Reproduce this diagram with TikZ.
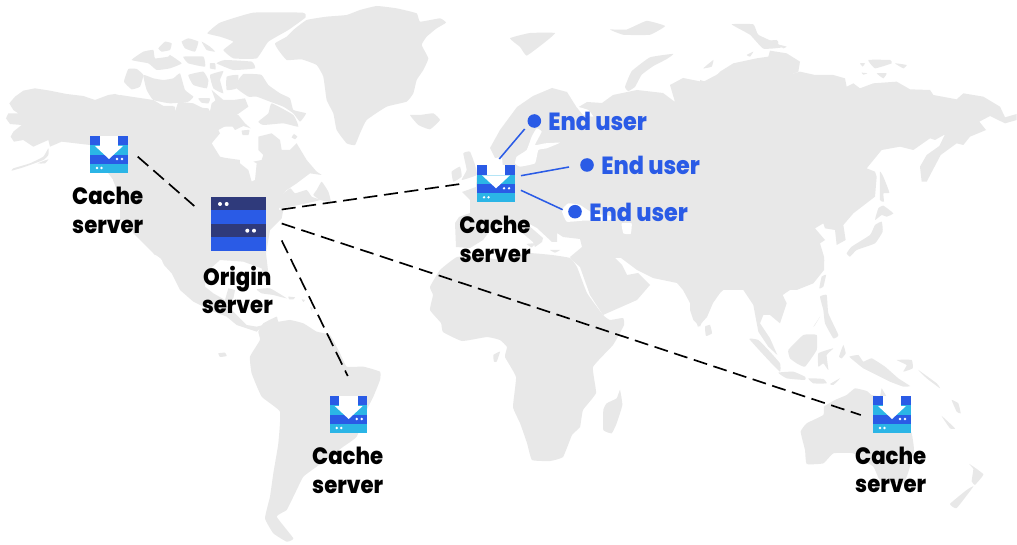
\documentclass[tikz,border=0pt]{standalone}
\usepackage{fontspec}
\setmainfont{Poppins}[BoldFont={Poppins ExtraBold},BoldFeatures={FakeStretch=.9}]
\usetikzlibrary{calc}
\definecolor{mapgray}{HTML}{E8E8E8}
\definecolor{cdnblue}{HTML}{2A5BE6}
\definecolor{cdncyan}{HTML}{2BB5E6}
\definecolor{cdnnavy}{HTML}{2F3A7B}
\newcommand\lnd[1]{\fill[mapgray] plot[smooth cycle,tension=.22] coordinates {#1};}
\newcommand\sea[1]{\fill[white] plot[smooth cycle,tension=.22] coordinates {#1};}
\tikzset{
  dashline/.style={draw=black,line width=1.25pt,dash pattern=on 10.5pt off 5pt},
  userline/.style={draw=cdnblue,line width=1.15pt},
  iconbox/.style={inner sep=0pt,minimum width=37.5*.75pt,minimum height=37.2*.75pt,draw=none},
  originbox/.style={inner sep=0pt,minimum width=54.6*.75pt,minimum height=54*.75pt,draw=none},
  userdot/.style={circle,fill=cdnblue,inner sep=0pt,minimum size=10.2pt,draw=none},
  srvlabel/.style={font=\fontsize{17.7}{21.5}\selectfont\bfseries,align=center,text=black,inner sep=0pt},
  userlabel/.style={font=\fontsize{18.6}{21}\selectfont\bfseries,text=cdnblue,inner sep=0pt,anchor=west},
  pics/cacheicon/.style={code={
    \fill[cdnblue] (0,0) rectangle (9.5,9.3);
    \fill[cdnblue] (28,0) rectangle (37.5,9.3);
    \fill[cdncyan] (0,9.3) rectangle (37.5,18.6);
    \fill[cdnblue] (0,18.6) rectangle (37.5,27.8);
    \fill[cdncyan] (0,27.8) rectangle (37.5,37.2);
    \fill[white] (9.5,0) rectangle (28,10);
    \fill[white] (5,10) -- (33,10) -- (19,23) -- cycle;
    \foreach \p in {(27,23),(32,23),(7,32),(11.5,32)} \fill[white] \p circle (1.3);
  }},
}
\begin{document}
\begin{tikzpicture}[x=.75pt,y=-.75pt]
\useasboundingbox (0,0) rectangle (1017,545);
\fill[white] (0,0) rectangle (1017,545);

% ---- North America
\begin{scope}[scale=.33333]
\fill[mapgray] (28,310) -- (45,290) -- (70,272) -- (105,265) -- (150,272) -- (200,282) -- (250,288) -- (285,300) -- (325,285) -- (345,282) -- (375,290) -- (420,298) -- (465,318) -- (520,318) -- (525,335) -- (535,305) -- (580,310) -- (630,335) -- (640,312) -- (700,340) -- (700,365) -- (655,390) -- (635,430) -- (650,470) -- (720,480) -- (720,560) -- (340,540) -- (310,500) -- (270,435) -- (185,425) -- (150,440) -- (145,420) -- (100,440) -- (70,420) -- (42,425) -- (32,410) -- (40,395) -- (65,375) -- (30,372) -- (18,355) -- (25,340) -- (55,340) -- (40,330) -- cycle;
\lnd{(145,445) (130,470) (90,490) (40,505) (35,512) (70,502) (130,480) (145,465)}
\lnd{(113,490) (145,478) (135,490)}
\end{scope}
\fill[mapgray] (113,180) -- (130,223) -- (215,230) -- (210,150) -- (113,150) -- cycle;

\begin{scope}[shift={(120,0)},scale=.33333]
\lnd{(560,60) (620,50) (680,45) (720,30) (770,18) (830,25) (890,40) (900,65) (960,55) (978,68) (950,85) (920,110) (905,135) (925,175) (910,210) (890,240) (880,280) (860,305) (800,320) (740,360) (720,400) (705,435) (680,430) (650,390) (640,340) (620,300) (610,230) (590,195) (545,178) (500,180) (475,150) (465,130) (500,110) (520,90)}
\lnd{(870,345) (900,345) (940,340) (960,360) (930,388) (895,375)}
\lnd{(262,100) (300,68) (400,38) (548,38) (557,52) (505,90) (445,125) (410,175) (340,175) (310,150) (340,125) (300,110)}
\lnd{(70,225) (100,235) (130,240) (160,235) (180,220) (195,270) (220,290) (205,305) (150,310) (100,300) (80,270)}
\lnd{(12,245) (25,207) (50,207) (70,225) (60,260) (35,268)}
\lnd{(35,180) (70,155) (100,150) (105,175) (145,170) (150,165) (185,190) (150,205) (110,210) (85,190)}
\lnd{(115,145) (135,125) (155,130) (150,150) (125,155)}
\lnd{(185,125) (205,115) (235,125) (225,155) (195,145)}
\lnd{(245,125) (270,140) (285,155) (260,150)}
\lnd{(190,170) (250,170) (255,200) (205,190)}
\lnd{(205,225) (250,215) (265,240) (260,265) (220,255)}
\lnd{(270,225) (310,213) (300,240) (310,280) (280,265)}
\lnd{(320,230) (355,225) (350,265) (320,270)}
\lnd{(355,240) (370,222) (400,222) (425,225) (445,255) (480,280) (510,295) (520,330) (558,340) (540,365) (520,340) (490,320) (450,305) (410,290) (385,290) (350,265)}
\lnd{(455,310) (520,345) (535,380) (490,370) (430,375) (415,365) (445,340)}
\lnd{(235,295) (270,295) (265,310) (245,308)}
\lnd{(315,180) (395,185) (405,205) (340,210) (290,190)}
\lnd{(270,190) (285,190) (287,208) (270,205)}
\lnd{(365,392) (388,390) (385,405) (368,405)}
% mainland: arctic coast, Hudson Bay, Quebec, Labrador
\fill[mapgray] (0,285) -- (100,300) -- (130,318) -- (165,320) -- (165,333) -- (200,320) -- (265,325) -- (270,335) -- (275,310) -- (295,295) -- (330,325) -- (345,345) -- (355,345) -- (375,370) -- (392,385) -- (370,378) -- (345,390) -- (338,380) -- (290,380) -- (300,400) -- (275,430) -- (300,470) -- (360,490) -- (385,510) -- (395,545) -- (405,540) -- (410,490) -- (400,485) -- (425,480) -- (430,465) -- (415,450) -- (415,410) -- (455,400) -- (480,420) -- (485,450) -- (510,450) -- (530,430) -- (560,480) -- (590,515) -- (605,525) -- (570,520) -- (530,550) -- (500,570) -- (475,600) -- (480,660) -- (0,660) -- cycle;
\fill[mapgray] (275,270) -- (310,300) -- (340,300) -- (375,295) -- (385,320) -- (350,345) -- (300,340) -- cycle;
\lnd{(605,545) (625,575) (632,605) (600,600) (580,585) (590,570)}
\lnd{(470,600) (510,565) (525,580) (560,570) (575,590) (600,600) (550,612) (480,625)}
\lnd{(522,402) (532,410) (525,418) (515,412)}
\end{scope}

\begin{scope}[shift={(130,210)},scale=.33333]
\fill[mapgray] (0,0) -- (0,40) -- (10,70) -- (40,100) -- (70,130) -- (125,190) -- (150,240) -- (190,275) -- (240,300) -- (290,320) -- (320,345) -- (350,355) -- (380,365) -- (400,345) -- (380,350) -- (350,345) -- (325,320) -- (290,285) -- (310,265) -- (315,240) -- (295,235) -- (285,270) -- (250,250) -- (225,230) -- (225,190) -- (270,150) -- (340,155) -- (395,175) -- (405,215) -- (420,225) -- (415,190) -- (408,130) -- (420,60) -- (455,25) -- (460,0) -- cycle;
\sea{(75,135) (95,150) (120,215) (100,190)}
\lnd{(380,238) (420,235) (470,265) (430,255) (395,250)}
\lnd{(475,260) (495,262) (490,268) (478,268)}
\lnd{(515,268) (525,270) (520,276)}
\lnd{(540,290) (548,295) (545,302)}
\lnd{(400,340) (440,320) (445,335) (480,330) (520,340) (560,365) (600,375) (630,430) (650,470) (700,470) (750,485) (750,510) (730,560) (710,600) (680,680) (640,710) (600,740) (560,770) (520,800) (495,850) (470,900) (440,920) (490,985) (470,995) (430,970) (405,925) (420,860) (430,790) (445,700) (450,605) (395,560) (365,490) (360,440) (390,390) (385,365)}
\lnd{(265,430) (285,428) (290,438) (270,441)}
\end{scope}

% ---- Eurasia west (pixels)
\fill[mapgray] (477,168) -- (476,187) -- (462,192) -- (470,200) -- (470,213) -- (459,217) -- (455,223) -- (456,247) -- (470,248) -- (483,240) -- (492,228) -- (507,223) -- (520,231) -- (533,242) -- (535,247) -- (542,242) -- (543,238) -- (528,225) -- (517,217) -- (537,228) -- (552,242) -- (557,242) -- (557,233) -- (563,237) -- (580,239) -- (582,247) -- (570,257) -- (572,260) -- (580,267) -- (590,295) -- (603,315) -- (637,300) -- (650,285) -- (638,273) -- (627,275) -- (622,265) -- (615,258) -- (621,258) -- (637,270) -- (653,278) -- (677,283) -- (683,290) -- (690,303) -- (698,327) -- (707,317) -- (713,303) -- (720,293) -- (720,73) -- (703,82) -- (683,78) -- (670,85) -- (675,102) -- (663,93) -- (637,90) -- (613,95) -- (602,103) -- (587,102) -- (577,108) -- (567,92) -- (552,88) -- (533,96) -- (517,107) -- (500,130) -- (490,148) -- (495,158) -- (502,157) -- (503,168) -- cycle;

% ---- Seas of Europe
\begin{scope}[shift={(420,60)},scale=.33333]
\sea{(350,205) (365,215) (345,255) (375,250) (420,248) (380,265) (355,270) (345,310) (300,320) (285,310) (290,290) (320,270) (335,230)}
\sea{(425,450) (445,430) (480,435) (520,460) (590,470) (560,482) (490,482) (440,485)}
\sea{(605,490) (635,490) (632,522) (610,520)}
\sea{(470,140) (505,150) (520,170) (490,165)}
\lnd{(130,280) (150,275) (165,315) (170,345) (125,360) (140,330)}
\lnd{(95,335) (120,320) (125,350) (100,365)}
\lnd{(235,490) (245,490) (245,510) (235,510)}
\lnd{(320,552) (345,550) (335,562)}
\lnd{(390,570) (420,570) (405,578)}
\end{scope}

% ---- Africa
\lnd{(430,287) (440,270) (457,257) (480,257) (503,260) (527,253) (552,255) (570,258) (577,267) (587,293) (603,315) (610,320) (623,318) (624,325) (613,345) (593,367) (596,393) (583,410) (580,427) (572,435) (563,457) (550,461) (532,460) (527,443) (520,423) (513,407) (516,377) (505,357) (507,347) (500,340) (487,337) (462,341) (443,332) (441,323) (430,310) (433,295)}
\begin{scope}[shift={(420,260)},scale=.33333]
\lnd{(600,390) (607,435) (590,490) (575,520) (550,510) (550,450) (560,430) (590,415)}
\lnd{(220,285) (240,275) (230,305) (222,305)}
\end{scope}

% ---- Eurasia east
\begin{scope}[shift={(700,40)},scale=.33333]
\fill[mapgray] (0,120) -- (30,130) -- (60,95) -- (100,70) -- (170,55) -- (205,50) -- (210,32) -- (260,40) -- (300,65) -- (295,95) -- (245,112) -- (300,95) -- (345,105) -- (400,105) -- (435,115) -- (440,140) -- (460,130) -- (480,145) -- (520,130) -- (590,125) -- (630,148) -- (690,150) -- (700,165) -- (770,178) -- (790,160) -- (850,170) -- (900,200) -- (915,232) -- (950,222) -- (950,240) -- (915,250) -- (870,228) -- (838,245) -- (858,270) -- (810,290) -- (790,315) -- (770,310) -- (722,345) -- (680,425) -- (665,425) -- (660,380) -- (680,345) -- (718,318) -- (735,283) -- (705,300) -- (690,295) -- (640,330) -- (600,320) -- (545,330) -- (500,385) -- (525,395) -- (530,410) -- (525,470) -- (460,520) -- (430,555) -- (437,600) -- (410,615) -- (405,570) -- (375,565) -- (370,550) -- (345,565) -- (375,600) -- (360,610) -- (372,650) -- (372,690) -- (340,730) -- (290,750) -- (0,750) -- cycle;
\lnd{(540,395) (552,415) (568,458) (550,460) (552,485) (540,480)}
\lnd{(525,540) (535,505) (550,497) (580,520) (560,530) (545,525)}
\lnd{(440,640) (455,620) (510,585) (525,555) (545,545) (548,575) (525,610) (470,630) (450,650)}
\lnd{(365,710) (378,705) (370,740) (358,745)}
\lnd{(505,60) (570,60) (575,70) (525,85)}
\lnd{(585,70) (620,75) (610,85)}
\lnd{(530,100) (560,100) (550,115)}
\lnd{(480,70) (495,70) (488,80)}
\lnd{(485,98) (502,100) (490,104)}
\lnd{(185,5) (230,0) (235,10) (200,25)}
\lnd{(240,15) (260,20) (250,25)}
\lnd{(10,85) (40,60) (35,80)}
\lnd{(140,45) (160,35) (150,50)}
\end{scope}

\begin{scope}[shift={(690,260)},scale=.33333]
\fill[mapgray] (0,0) -- (403,0) -- (395,30) -- (370,50) -- (300,90) -- (278,105) -- (290,130) -- (270,190) -- (240,165) -- (220,165) -- (210,190) -- (240,235) -- (262,285) -- (235,260) -- (205,215) -- (190,135) -- (150,75) -- (100,90) -- (60,125) -- (30,200) -- (10,180) -- (0,150) -- cycle;
\lnd{(45,200) (60,195) (66,220) (48,228)}
\lnd{(178,237) (205,240) (235,270) (270,310) (270,335) (235,300)}
\lnd{(265,338) (310,335) (345,350) (345,360) (290,355)}
\lnd{(295,270) (340,225) (380,225) (380,270) (345,320) (320,310) (300,295)}
\lnd{(385,280) (430,265) (410,285) (415,330) (400,310) (385,320)}
\lnd{(390,110) (410,105) (415,160) (445,225) (430,235) (405,190) (400,150)}
\lnd{(370,200) (390,170) (375,195)}
\lnd{(447,290) (460,255) (467,280) (455,295)}
\lnd{(478,290) (505,285) (520,305) (545,295) (585,320) (625,355) (660,378) (640,380) (600,365) (560,345) (520,325) (495,305)}
\lnd{(420,372) (450,355) (430,375)}
\lnd{(355,355) (400,357) (410,370) (370,370)}
\lnd{(685,330) (740,370) (750,385) (710,355)}
\lnd{(620,300) (665,300) (668,325) (640,335) (650,315)}
\lnd{(785,420) (805,430) (812,460) (800,455)}
\lnd{(755,468) (795,505) (780,505)}
\lnd{(332,515) (350,490) (400,465) (402,440) (435,420) (470,405) (495,385) (530,393) (545,405) (570,408) (575,385) (590,410) (640,470) (665,520) (672,570) (660,620) (640,670) (570,660) (550,620) (490,580) (430,580) (400,610) (350,612) (345,570)}
\end{scope}

% ---- Arctic Russia, New Zealand (second overview crop)
\begin{scope}[shift={(510,0)},xscale=.33333,yscale=.3475]
\lnd{(0,110) (60,95) (135,95) (100,125) (50,160) (30,135)}
\lnd{(300,85) (350,85) (410,60) (465,75) (420,100) (340,100)}
\lnd{(665,70) (730,70) (745,100) (820,135) (760,140) (720,100)}
\lnd{(345,250) (365,205) (420,165) (490,155) (470,170) (430,190) (395,215) (375,250) (355,262)}
\lnd{(1378,1335) (1420,1365) (1395,1395) (1385,1385) (1390,1350)}
\lnd{(1390,1400) (1340,1462) (1320,1450) (1370,1410)}
\end{scope}

% ---- Servers
\node[iconbox] (cacheNA) at (108.75,154.6) {};
\node[iconbox] (cacheEU) at (495.75,183.9) {};
\node[iconbox] (cacheSA) at (348.45,414.6) {};
\node[iconbox] (cacheAU) at (891.75,414.6) {};
\pic at (90,136) {cacheicon};
\pic at (477,165.3) {cacheicon};
\pic at (329.7,396) {cacheicon};
\pic at (873,396) {cacheicon};

\node[originbox] (origin) at (238.3,223.7) {};
\fill[cdnnavy] (211,196.7) rectangle (265.7,210.2);
\fill[cdnblue] (211,210.2) rectangle (265.7,224);
\fill[cdnnavy] (211,224) rectangle (265.7,237);
\fill[cdnblue] (211,237) rectangle (265.7,250.7);
\foreach \p in {(220,204),(226.7,204),(247.3,230.7),(254,230.7)} \fill[white] \p circle (2);

% ---- Links
\draw[dashline] ([shift={(29,2.1)}]cacheNA.center) -- ([shift={(-44,-17.7)}]origin.center);
\draw[dashline] ([shift={(43.4,-14.2)}]origin.center) -- ([shift={(-30.7,-0.6)}]cacheEU.center);
\draw[dashline] ([shift={(43.4,-0.2)}]origin.center) -- ([shift={(-31,0.4)}]cacheAU.center);
\draw[dashline] ([shift={(43.4,16.8)}]origin.center) -- ([shift={(-0.7,-38.6)}]cacheSA.center);

% ---- End users
\node[userdot] (userA) at (534.3,121) {};
\node[userdot] (userB) at (587,165) {};
\node[userdot] (userC) at (575,211.7) {};
\draw[userline] ([shift={(3.5,-24.9)}]cacheEU.center) -- ([shift={(-9.6,8)}]userA.center);
\draw[userline] ([shift={(25.2,-8.2)}]cacheEU.center) -- ([shift={(-18,2)}]userB.center);
\draw[userline] ([shift={(25.2,6.4)}]cacheEU.center) -- ([shift={(-12.3,-2)}]userC.center);
\node[userlabel] (labA) at (548,121) {End user};
\node[userlabel] (labB) at (601,165) {End user};
\node[userlabel] (labC) at (589,212) {End user};

% ---- Labels
\node[srvlabel] (labNA) at (107.7,210.5) {Cache\\server};
\node[srvlabel] (labO) at (237.3,290) {Origin\\server};
\node[srvlabel] (labEU) at (495,239.5) {Cache\\server};
\node[srvlabel] (labSA) at (347.7,470.5) {Cache\\server};
\node[srvlabel] (labAU) at (890.7,470) {Cache\\server};
\end{tikzpicture}
\end{document}
